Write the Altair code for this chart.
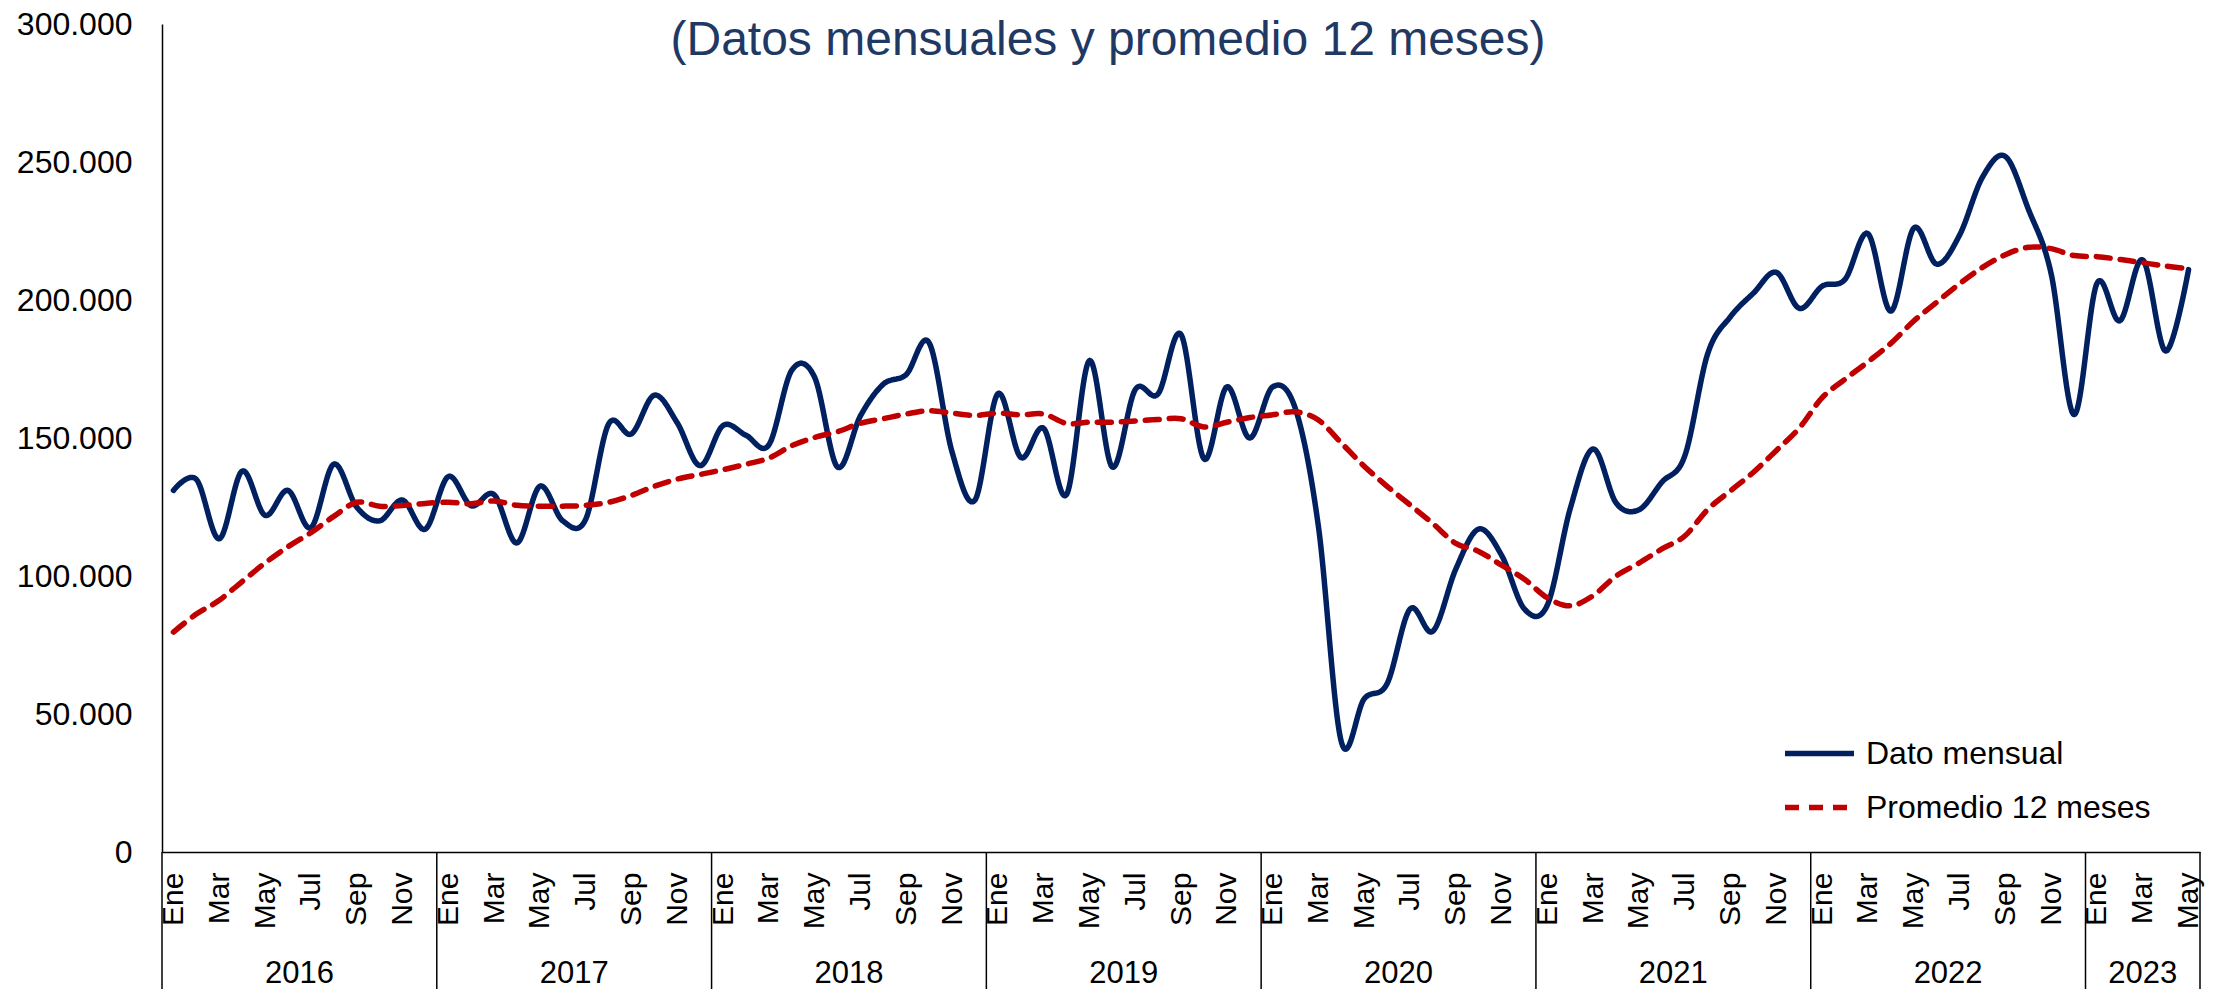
import json
import altair as alt
import pandas as pd

# ---------------- data ----------------
subtitulo = "(Datos mensuales y promedio 12 meses)"
meses = ["Ene", "Feb", "Mar", "Abr", "May", "Jun", "Jul", "Ago", "Sep", "Oct", "Nov", "Dic"]
anios = [2016, 2017, 2018, 2019, 2020, 2021, 2022, 2023]
meses_por_anio = [12, 12, 12, 12, 12, 12, 12, 5]
series = ["Dato mensual", "Promedio 12 meses"]

dato_mensual = [
    131000, 135000, 113500, 138000, 122000, 131000, 117500, 140500, 125000, 120000, 127500, 117000,
    136000, 125500, 129500, 112000, 132500, 120000, 120500, 155000, 151500, 165500, 155500, 140000,
    154500, 151000, 147500, 174500, 172000, 139500, 158000, 169500, 173000, 184500, 145000, 127500,
    166000, 143000, 153500, 129500, 178000, 139500, 167500, 166000, 187500, 142500, 168500, 150000,
    168500, 160500, 118000, 40000, 55500, 61000, 88000, 80000, 102500, 117000, 107500, 88000,
    89500, 124500, 146000, 126500, 124000, 134000, 143500, 180500, 194000, 202500, 210000, 197000,
    205000, 207500, 224000, 196000, 226000, 213000, 223500, 244500, 252000, 233000, 209500, 158500,
    206000, 192500, 214500, 181500, 211000,
]

promedio_12m = [
    79700, 86200, 91200, 98000, 104700, 110600, 115700, 121600, 126700, 125300, 125500, 126300,
    126700, 126200, 127200, 125600, 125300, 125300, 125600, 126700, 129200, 132500, 135100, 136800,
    138500, 140500, 142700, 147200, 150200, 152300, 155300, 157000, 158700, 159900, 159000, 158200,
    159000, 158400, 158700, 155300, 155700, 155700, 156200, 156700, 157000, 154000, 155700, 157400,
    158400, 159500, 156500, 148200, 139800, 132500, 125800, 119000, 111800, 108900, 103900, 98800,
    92100, 89200, 92900, 100000, 104700, 109800, 114500, 124100, 130900, 137600, 145500, 153600,
    164600, 171300, 177600, 184300, 192400, 199200, 205900, 211800, 216400, 219100, 218600, 216100,
    215700, 214700, 213500, 212300, 211300,
]

# ---------------- tables ----------------
n = len(dato_mensual)
rows = []
for nombre, valores in zip(series, [dato_mensual, promedio_12m]):
    for i, v in enumerate(valores):
        rows.append({"idx": i, "serie": nombre, "valor": v})
df = pd.DataFrame(rows)

inicio = [sum(meses_por_anio[:k]) for k in range(len(anios))]
df_anios = pd.DataFrame({
    "anio": [str(a) for a in anios],
    "centro": [s + (m - 1) / 2 for s, m in zip(inicio, meses_por_anio)],
})
df_limites = pd.DataFrame({"limite": [s - 0.5 for s in inicio] + [n - 0.5]})
df_titulo = pd.DataFrame({"texto": [subtitulo]})

# ---------------- chart ----------------
W, H = 2038, 828
FONT = "Liberation Sans"

x_scale = alt.Scale(domain=[-0.5, n - 0.5], nice=False, zero=False)

leg = alt.Legend(
    title=None, orient="none", legendX=1620, legendY=692, direction="vertical",
    symbolType="stroke", symbolSize=4761, symbolStrokeWidth=5.5,
    labelFontSize=32, labelFont=FONT, labelColor="black", labelOffset=9,
    labelLimit=600, rowPadding=-3, padding=0,
)

lineas = alt.Chart(df).mark_line(
    interpolate="cardinal", strokeWidth=5.5, strokeCap="round", strokeJoin="round"
).encode(
    x=alt.X("idx:Q", scale=x_scale, axis=alt.Axis(
        values=list(range(0, n, 2)),
        labelExpr=f"{json.dumps(meses)}[datum.value % 12]",
        labelAngle=-90, labelAlign="right", labelBaseline="middle",
        labelFontSize=30, labelFont=FONT, labelColor="black", labelPadding=20,
        labelOverlap=False, labelFlush=False, labelBound=False,
        ticks=False, grid=False, domainColor="black", domainWidth=1.5, title=None,
    )),
    y=alt.Y("valor:Q", scale=alt.Scale(domain=[0, 300000], nice=False), axis=alt.Axis(
        values=list(range(0, 300001, 50000)),
        labelExpr="replace(format(datum.value, ','), ',', '.')",
        labelFontSize=32, labelFont=FONT, labelColor="black", labelPadding=30,
        ticks=False, grid=False, domainColor="black", domainWidth=1.5, title=None,
    )),
    color=alt.Color("serie:N", scale=alt.Scale(domain=series, range=["#002060", "#C00000"]), legend=leg),
    strokeDash=alt.StrokeDash("serie:N", scale=alt.Scale(domain=series, range=[[1, 0], [14, 10]]), legend=leg),
    order=alt.Order("idx:Q"),
)

separadores = alt.Chart(df_limites).mark_rule(color="black", strokeWidth=1.5).encode(
    x=alt.X("limite:Q", scale=x_scale),
    y=alt.value(H),
    y2=alt.value(H + 170),
)

etiquetas_anio = alt.Chart(df_anios).mark_text(
    font=FONT, fontSize=31, color="black", baseline="alphabetic", align="center"
).encode(
    x=alt.X("centro:Q", scale=x_scale),
    y=alt.value(H + 131),
    text="anio:N",
)

titulo = alt.Chart(df_titulo).mark_text(
    font=FONT, fontSize=48, color="#1F3864", baseline="alphabetic", align="center"
).encode(
    x=alt.value(946),
    y=alt.value(31),
    text="texto:N",
)

chart = alt.layer(lineas, separadores, etiquetas_anio, titulo).properties(
    width=W, height=H,
    autosize=alt.AutoSizeParams(type="none"),
    padding={"left": 154, "top": 16, "right": 5, "bottom": 141},
).configure_view(stroke=None)

chart.save("out.html", embed_options={"renderer": "svg", "actions": False})
